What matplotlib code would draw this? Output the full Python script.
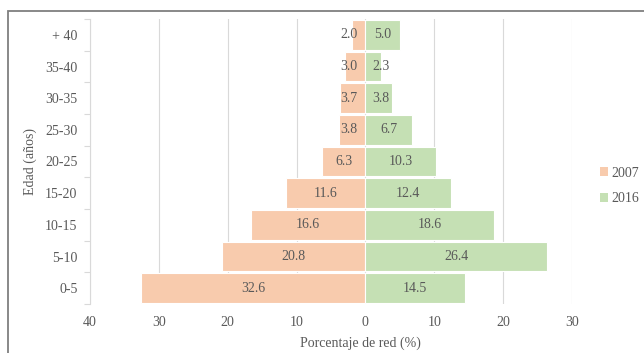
import matplotlib
matplotlib.use("Agg")
import matplotlib.pyplot as plt
from matplotlib.patches import Rectangle, Patch
from matplotlib.ticker import FixedLocator, NullFormatter
import numpy as np

categories = ["0-5", "5-10", "10-15", "15-20", "20-25", "25-30", "30-35", "35-40", "+ 40"]
pct_2007 = [32.6, 20.8, 16.6, 11.6, 6.3, 3.8, 3.7, 3.0, 2.0]
pct_2016 = [14.5, 26.4, 18.6, 12.4, 10.3, 6.7, 3.8, 2.3, 5.0]
xticks = [-40, -30, -20, -10, 0, 10, 20, 30]
xtick_labels = ["40", "30", "20", "10", "0", "10", "20", "30"]

c07 = "#F8CBAD"
c16 = "#C5E0B4"
txt = "#595959"
grid = "#D9D9D9"

plt.rcParams["font.family"] = ["Liberation Serif", "DejaVu Serif"]

fig = plt.figure(figsize=(6.44, 3.53), dpi=100)
ax = fig.add_axes([90 / 644, 1 - 304 / 353, (572 - 90) / 644, (304 - 19) / 353])

# outer frame
fig.patches.append(Rectangle((8 / 644, -0.05), 1.2, 1 - 11 / 353 + 0.05,
                             transform=fig.transFigure, fill=False,
                             edgecolor="#7F7F7F", linewidth=1.3))

y = np.arange(len(categories))
h = 0.93
ax.barh(y, [-v for v in pct_2007], height=h, color=c07, edgecolor="white",
        linewidth=0.8, label="2007", zorder=3)
ax.barh(y, pct_2016, height=h, color=c16, edgecolor="white",
        linewidth=0.8, label="2016", zorder=3)

for yi, v in zip(y, pct_2007):
    ax.text(-max(v / 2, 2.4), yi, f"{v:.1f}", ha="center", va="center",
            fontsize=10, color=txt, zorder=4)
for yi, v in zip(y, pct_2016):
    ax.text(max(v / 2, 2.3), yi, f"{v:.1f}", ha="center", va="center",
            fontsize=10, color=txt, zorder=4)

ax.set_xlim(-40, 30)
ax.set_ylim(-0.5, len(categories) - 0.5)
ax.set_xticks(xticks)
ax.set_xticklabels(xtick_labels)
ax.set_yticks(y)
ax.set_yticklabels(categories)
ax.yaxis.set_minor_locator(FixedLocator(np.arange(-0.5, len(categories), 1.0)))
ax.yaxis.set_minor_formatter(NullFormatter())
ax.tick_params(axis="x", length=0, pad=9, labelsize=10, labelcolor=txt)
ax.tick_params(axis="y", which="major", length=0, pad=9, labelsize=10, labelcolor=txt)
ax.tick_params(axis="y", which="minor", length=4, width=0.8, color=grid)

ax.grid(axis="x", color=grid, linewidth=0.8, zorder=0)
for s in ["top", "right", "bottom"]:
    ax.spines[s].set_visible(False)
ax.spines["left"].set_color(grid)
ax.spines["left"].set_linewidth(0.8)

ax.set_xlabel("Porcentaje de red (%)", fontsize=10, color=txt)
ax.xaxis.set_label_coords((360 - 90) / (572 - 90), -(343 - 304) / (304 - 19), transform=ax.transAxes)
ax.xaxis.label.set_va("center")
ax.set_ylabel("Edad (años)", fontsize=10, color=txt)
ax.yaxis.set_label_coords(-(90 - 30) / (572 - 90), 0.5, transform=ax.transAxes)
ax.yaxis.label.set_va("center")

handles = [Patch(facecolor=c07, edgecolor="none"), Patch(facecolor=c16, edgecolor="none")]
fig.legend(handles, ["2007", "2016"], loc="center left",
           bbox_to_anchor=(600 / 644, 1 - 186 / 353), frameon=False,
           borderpad=0, borderaxespad=0,
           fontsize=10, labelcolor=txt, handlelength=0.6, handleheight=0.6,
           handletextpad=0.25, labelspacing=0.9)

fig.savefig("out.png", dpi=100)
